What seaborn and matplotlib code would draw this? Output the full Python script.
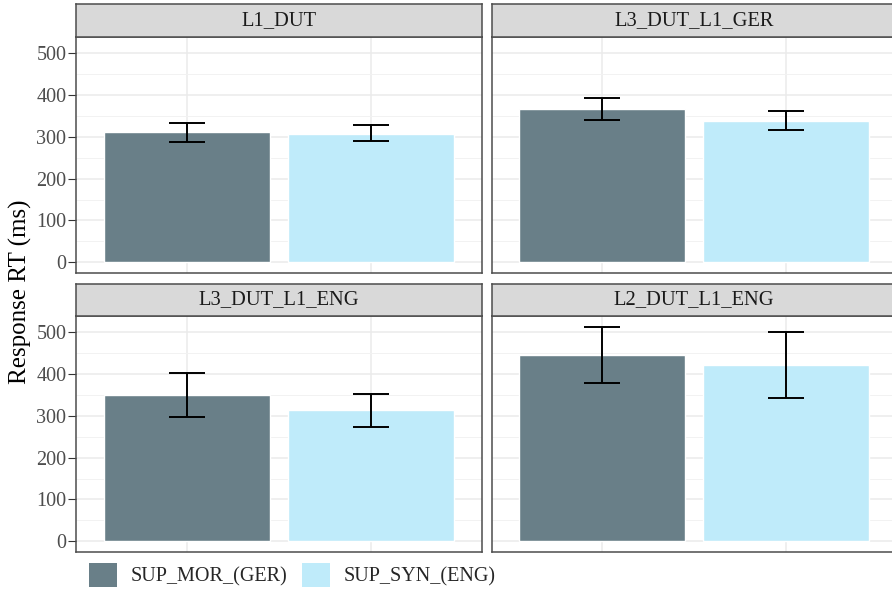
import numpy as np
import pandas as pd
import matplotlib
matplotlib.use("Agg")
import matplotlib.pyplot as plt
import seaborn as sns
from matplotlib.patches import Rectangle

sns.set_theme(style="white")
plt.rcParams['font.family'] = ['Liberation Serif', 'DejaVu Serif']

# ---- data ----
panels = ["L1_DUT", "L3_DUT_L1_GER", "L3_DUT_L1_ENG", "L2_DUT_L1_ENG"]
conditions = ["SUP_MOR_(GER)", "SUP_SYN_(ENG)"]
mor_mean = [311, 366, 349, 445]
syn_mean = [307, 337, 313, 421]
mor_lo = [288, 340, 296, 379]
mor_hi = [333, 392, 402, 513]
syn_lo = [289, 316, 274, 342]
syn_hi = [329, 362, 352, 501]
yticks = [0, 100, 200, 300, 400, 500]

colors = {"SUP_MOR_(GER)": "#697f88", "SUP_SYN_(ENG)": "#bfebfa"}

rows = []
for i, p in enumerate(panels):
    rows.append(dict(panel=p, cond=conditions[0], rt=mor_mean[i], lo=mor_lo[i], hi=mor_hi[i]))
    rows.append(dict(panel=p, cond=conditions[1], rt=syn_mean[i], lo=syn_lo[i], hi=syn_hi[i]))
df = pd.DataFrame(rows)

W, H = 892, 591
fig = plt.figure(figsize=(W / 100, H / 100), dpi=100)

def fx(px):
    return px / W

def fy(py):
    return 1 - py / H

col_x = [(76, 481.5), (491.5, 897)]
row_y = [((4, 37), (37, 273)), ((284, 316), (316, 552))]

ymax_data = max(max(mor_hi), max(syn_hi))
pad = 0.05 * ymax_data
ylim = (-pad, ymax_data + pad)

border = "#4d4d4d"

for i, p in enumerate(panels):
    r, c = divmod(i, 2)
    x0, x1 = col_x[c]
    (s0, s1), (p0, p1) = row_y[r]
    ax = fig.add_axes([fx(x0), fy(p1), fx(x1 - x0), (p1 - p0) / H])
    sub = df[df.panel == p]
    sns.barplot(data=sub, x="cond", y="rt", hue="cond", order=conditions,
                hue_order=conditions, palette=colors, dodge=False, width=0.9,
                errorbar=None, legend=False, ax=ax, saturation=1, zorder=2)
    xs = np.arange(len(conditions))
    ax.errorbar(xs, sub.rt.values, yerr=[sub.rt.values - sub.lo.values, sub.hi.values - sub.rt.values],
                fmt="none", ecolor="black", elinewidth=1.4, capsize=13.3, capthick=1.4, zorder=3)
    ax.set_xlim(-0.6, 1.6)
    ax.set_ylim(*ylim)
    ax.set_yticks(yticks)
    ax.set_yticks([50, 150, 250, 350, 450], minor=True)
    ax.set_xticks(xs)
    ax.grid(True, which="major", color="#ebebeb", lw=1.1, zorder=0)
    ax.grid(True, which="minor", axis="y", color="#f2f2f2", lw=0.7, zorder=0)
    ax.set_axisbelow(True)
    ax.set_xlabel("")
    ax.set_ylabel("")
    ax.tick_params(axis="x", length=0, labelbottom=False)
    if c == 0:
        ax.tick_params(axis="y", which="major", length=5.5, width=0.8, color="#333333",
                       labelsize=14.5, labelcolor="#4d4d4d", pad=1.5, left=True)
    else:
        ax.tick_params(axis="y", which="both", length=0, labelleft=False)
    ax.tick_params(axis="y", which="minor", length=0)
    for s in ax.spines.values():
        s.set_color(border)
        s.set_linewidth(1.1)
        s.set_visible(True)
    # strip
    sax = fig.add_axes([fx(x0), fy(s1), fx(x1 - x0), (s1 - s0) / H])
    sax.set_facecolor("#d9d9d9")
    sax.set_xticks([])
    sax.set_yticks([])
    for s in sax.spines.values():
        s.set_color(border)
        s.set_linewidth(1.1)
    sax.text(0.5, 0.5, p, ha="center", va="center", fontsize=14.8, color="#1a1a1a",
             transform=sax.transAxes)

fig.text(fx(20), fy(292), "Response RT (ms)", rotation=90, ha="center", va="center",
         fontsize=18, color="black")

# legend
handles = [Rectangle((0, 0), 1, 1, facecolor=colors[cnd], edgecolor="none") for cnd in conditions]
fig.legend(handles, conditions, loc="center left", bbox_to_anchor=(fx(89), fy(575)),
           ncol=2, frameon=False, fontsize=14.5, handlelength=1.4, handleheight=1.4,
           handletextpad=0.65, columnspacing=0.75, borderaxespad=0, borderpad=0)

fig.savefig("out.png", dpi=100)
